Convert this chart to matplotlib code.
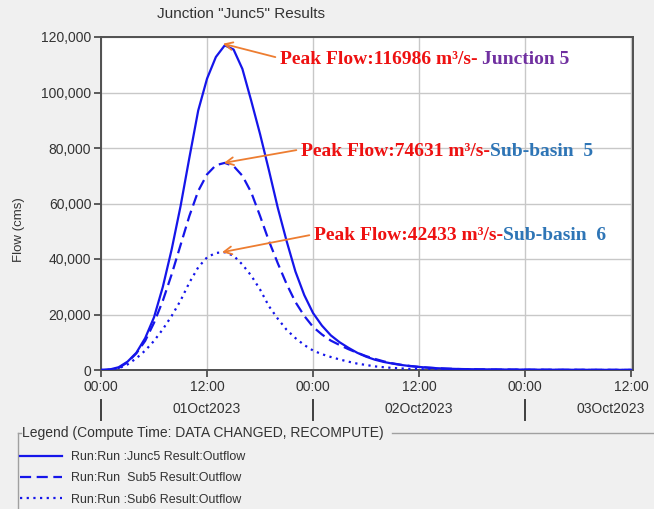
import matplotlib
matplotlib.use("Agg")
import matplotlib.pyplot as plt
import matplotlib.transforms as mtransforms
from matplotlib.lines import Line2D
from matplotlib.offsetbox import TextArea, HPacker, AnnotationBbox
from matplotlib.ticker import StrMethodFormatter

# ---------------- data ----------------
hours = list(range(0, 61))
junc5 = [0, 200, 1000, 3000, 6200, 11500, 19000, 30000, 43500, 59000,
         76500, 93500, 105000, 112800, 116986, 115500, 108500, 97000, 85000, 72000,
         58500, 46500, 35500, 27000, 20500, 16000, 12500, 10000, 8000, 6200,
         4800, 3700, 2900, 2300, 1800, 1400, 1100, 850, 650, 500,
         400, 330, 280, 240, 210, 185, 165, 150, 135, 120,
         110, 100, 92, 85, 78, 72, 66, 61, 56, 52, 48]
sub5 = [0, 150, 700, 2800, 6000, 10500, 17000, 25000, 34500, 45000,
        55500, 64500, 70500, 73800, 74631, 73500, 70000, 64000, 55500, 46500,
        38500, 31000, 24500, 19500, 15500, 12800, 10600, 9000, 7500, 6200,
        5000, 4000, 3100, 2400, 1850, 1450, 1100, 850, 650, 500,
        380, 300, 250, 210, 180, 160, 140, 125, 112, 100,
        90, 82, 75, 68, 62, 57, 52, 48, 44, 40, 37]
sub6 = [0, 100, 600, 2000, 4200, 7000, 10500, 14700, 19500, 25000,
        31500, 37000, 40600, 42200, 42433, 41200, 38000, 34000, 29000, 23000,
        18500, 14500, 11500, 9000, 7000, 5700, 4700, 3800, 3000, 2300,
        1800, 1300, 1000, 750, 550, 400, 300, 230, 180, 140,
        110, 90, 75, 62, 52, 45, 40, 35, 31, 28,
        25, 22, 20, 18, 16, 15, 14, 13, 12, 11, 10]

series_labels = ["Run:Run :Junc5 Result:Outflow",
                 "Run:Run  Sub5 Result:Outflow",
                 "Run:Run :Sub6 Result:Outflow"]
peak_hours = [13.8, 13.9, 13.7]
peak_values = [116986, 74631, 42433]
peak_red = ["Peak Flow:116986 m\u00b3/s- ", "Peak Flow:74631 m\u00b3/s-", "Peak Flow:42433 m\u00b3/s-"]
peak_names = ["Junction 5", "Sub-basin  5", "Sub-basin  6"]
peak_name_colors = ["#7030A0", "#2E75B6", "#2E75B6"]

xtick_hours = [0, 12, 24, 36, 48, 60]
xtick_labels = ["00:00", "12:00", "00:00", "12:00", "00:00", "12:00"]
day_bars = [0, 24, 48]
day_labels = ["01Oct2023", "02Oct2023", "03Oct2023"]
yticks = [0, 20000, 40000, 60000, 80000, 100000, 120000]

# ---------------- figure ----------------
W, H = 654, 509
bg = "#f0f0f0"
plt.rcParams["font.family"] = ["Liberation Sans", "DejaVu Sans"]
fig = plt.figure(figsize=(W / 100, H / 100), dpi=100, facecolor=bg)

L, R, T, B = 101, 633, 37, 370
ax = fig.add_axes([L / W, 1 - B / H, (R - L) / W, (B - T) / H])
ax.set_facecolor("white")

blue = "#1515ea"
lw = 1.6
ax.plot(hours, junc5, color=blue, lw=lw, label=series_labels[0], zorder=3)
ax.plot(hours, sub5, color=blue, lw=lw, dashes=(5, 2.5), label=series_labels[1], zorder=3)
ax.plot(hours, sub6, color=blue, lw=lw, dashes=(1, 2), label=series_labels[2], zorder=3)

ax.set_xlim(0, 60.2)
ax.set_ylim(0, 120000)
ax.set_xticks(xtick_hours)
ax.set_xticklabels(xtick_labels)
ax.set_yticks(yticks)
ax.yaxis.set_major_formatter(StrMethodFormatter("{x:,.0f}"))
ax.grid(True, color="#c8c8c8", lw=1.0, zorder=0)
ax.tick_params(axis="both", direction="out", length=5, width=1.2, color="#404040",
               labelsize=10, labelcolor="#333333", pad=2)
for s in ax.spines.values():
    s.set_color("#505050")
    s.set_linewidth(1.4)

ax.set_ylabel("Flow (cms)", fontsize=9.5, color="#333333")
ax.yaxis.set_label_coords(25 / W, 1 - 230 / H, transform=fig.transFigure)

fig.text(241 / W, 1 - 14 / H, 'Junction "Junc5" Results', fontsize=11, color="#333333",
         ha="center", va="center")

# second x row: day separators and labels
trans = mtransforms.blended_transform_factory(ax.transData, fig.transFigure)
for d in day_bars:
    ax.plot([d, d], [1 - 400 / H, 1 - 420 / H], color="#404040", lw=1.4,
            transform=trans, clip_on=False)
ax.text(12, 1 - 409 / H, day_labels[0], transform=trans, ha="center", va="center",
        fontsize=10, color="#333333")
ax.text(36, 1 - 409 / H, day_labels[1], transform=trans, ha="center", va="center",
        fontsize=10, color="#333333")
fig.text(645 / W, 1 - 409 / H, day_labels[2], ha="right", va="center",
         fontsize=10, color="#333333")

# annotations
red = "#ee1111"
orange = "#ED7D31"
text_pos = [(280, 60), (301, 151), (314, 236)]
tip_offsets = [600, 0, 0]
for i in range(3):
    ta1 = TextArea(peak_red[i], textprops=dict(color=red, fontsize=14, fontweight="bold",
                                               family="Liberation Serif"))
    ta2 = TextArea(peak_names[i], textprops=dict(color=peak_name_colors[i], fontsize=14,
                                                 fontweight="bold", family="Liberation Serif"))
    pack = HPacker(children=[ta1, ta2], align="baseline", pad=0, sep=0)
    px, py = text_pos[i]
    ab = AnnotationBbox(pack, (peak_hours[i], peak_values[i] + tip_offsets[i]), xycoords="data",
                        xybox=(px, H - py), boxcoords="figure pixels",
                        box_alignment=(0, 0.5), frameon=False, pad=0.3,
                        arrowprops=dict(arrowstyle="->", color=orange, lw=1.3,
                                        relpos=(0, 0.6), shrinkA=0, shrinkB=0,
                                        mutation_scale=10))
    ax.add_artist(ab)

# legend block
fig.add_artist(Line2D([18 / W, 18 / W], [1 - 433 / H, 0], color="#a0a0a0", lw=1.0))
fig.add_artist(Line2D([18 / W, 21 / W], [1 - 433 / H, 1 - 433 / H], color="#a0a0a0", lw=1.0))
fig.add_artist(Line2D([392 / W, 1], [1 - 433 / H, 1 - 433 / H], color="#a0a0a0", lw=1.0))
fig.text(22 / W, 1 - 433 / H, "Legend (Compute Time: DATA CHANGED, RECOMPUTE)",
         fontsize=10, color="#333333", ha="left", va="center")
handles, labels = ax.get_legend_handles_labels()
fig.legend(handles, labels, loc="upper left", bbox_to_anchor=(20 / W, 1 - 451 / H),
           frameon=False, fontsize=9, handlelength=3.4, handletextpad=0.7,
           labelspacing=0.75, borderpad=0, borderaxespad=0, labelcolor="#333333")

fig.savefig("out.png", dpi=100, facecolor=bg)
